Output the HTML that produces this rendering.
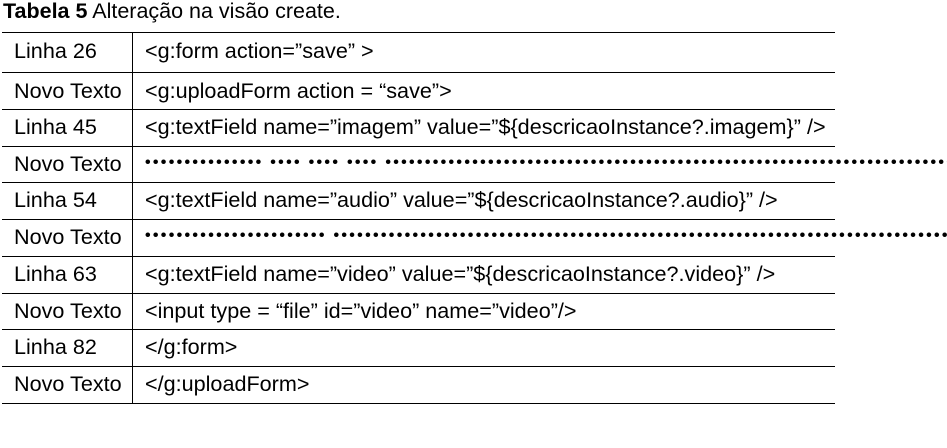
<!DOCTYPE html>
<html><head><meta charset="utf-8"><style>
body{margin:0;width:947px;height:448px;background:#fff;position:relative;overflow:hidden;font-family:"Liberation Sans",Arial,sans-serif;color:#000}
.t{position:absolute;left:3px;top:-1px;font-size:21.5px;white-space:nowrap;line-height:24px}
.h{position:absolute;left:2px;width:833px;height:0;border-top:1.3px solid #000}
.v{position:absolute;left:132px;top:32px;height:371px;border-left:1.3px solid #000}
.c{position:absolute;left:14px;font-size:21.6px;white-space:nowrap;line-height:24px}
.c2{position:absolute;left:145px;font-size:21.6px;white-space:nowrap;line-height:24px}
.d{position:absolute;left:145px;width:802px;overflow:hidden;font-size:16px;letter-spacing:2.3px;white-space:pre;line-height:18px;font-weight:bold}
</style></head><body>
<div class="t"><b>Tabela 5</b> Alteração na visão create.</div>
<div class="h" style="top:32px"></div>
<div class="h" style="top:72px"></div>
<div class="h" style="top:109px"></div>
<div class="h" style="top:146px"></div>
<div class="h" style="top:182px"></div>
<div class="h" style="top:219px"></div>
<div class="h" style="top:256px"></div>
<div class="h" style="top:293px"></div>
<div class="h" style="top:329px"></div>
<div class="h" style="top:366px"></div>
<div class="h" style="top:403px"></div>
<div class="v"></div>

<div class="c" style="top:39px">Linha 26</div>
<div class="c2" style="top:39px">&lt;g:form action=”save” &gt;</div>
<div class="c" style="top:79px">Novo Texto</div>
<div class="c2" style="top:79px">&lt;g:uploadForm action = “save”&gt;</div>
<div class="c" style="top:115px">Linha 45</div>
<div class="c2" style="top:115px">&lt;g:textField name=”imagem” value=”${descricaoInstance?.imagem}” /&gt;</div>
<div class="c" style="top:152px">Novo Texto</div>
<div class="d" style="top:154px">••••••••••••••• •••• •••• •••• ••••••••••••••••••••••••••••••••••••••••••••••••••••••••••••••••••••••••••••••••••••</div>
<div class="c" style="top:188px">Linha 54</div>
<div class="c2" style="top:188px">&lt;g:textField name=”audio” value=”${descricaoInstance?.audio}” /&gt;</div>
<div class="c" style="top:225px">Novo Texto</div>
<div class="d" style="top:227px">••••••••••••••••••••••• •••••••••••••••••••••••••••••••••••••••••••••••••••••••••••••••••••••••••••••••••••••••••</div>
<div class="c" style="top:262px">Linha 63</div>
<div class="c2" style="top:262px">&lt;g:textField name=”video” value=”${descricaoInstance?.video}” /&gt;</div>
<div class="c" style="top:299px">Novo Texto</div>
<div class="c2" style="top:299px">&lt;input type = “file” id=”video” name=”video”/&gt;</div>
<div class="c" style="top:335px">Linha 82</div>
<div class="c2" style="top:335px">&lt;/g:form&gt;</div>
<div class="c" style="top:372px">Novo Texto</div>
<div class="c2" style="top:372px">&lt;/g:uploadForm&gt;</div>
</body></html>
